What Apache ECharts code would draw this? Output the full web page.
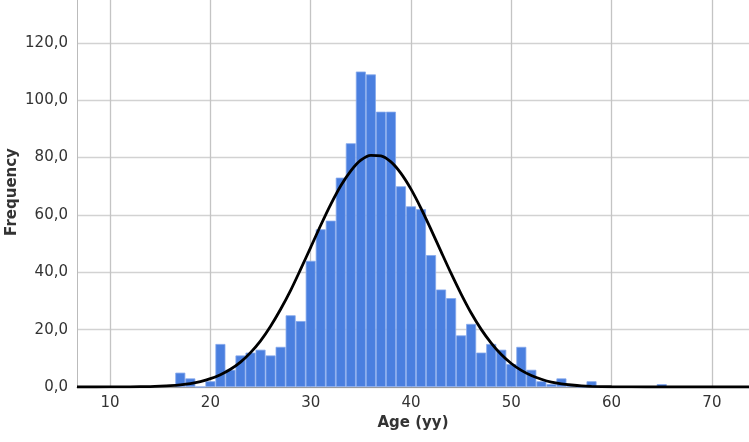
<!DOCTYPE html>
<html><head><meta charset="utf-8">
<script src="https://cdn.jsdelivr.net/npm/echarts@6/dist/echarts.min.js"></script>
<style>html,body{margin:0;padding:0;background:#fff}#c{width:749px;height:442px}</style>
</head><body><div id="c"></div>
<script>
// Histogram bins (age in years, centre of 1-year bin) and frequencies
const binAges = [17,18,19,20,21,22,23,24,25,26,27,28,29,30,31,32,33,34,35,36,37,38,39,40,41,42,43,44,45,46,47,48,49,50,51,52,53,54,55,56,57,58,59,60,61,62,63,64,65];
const binFreq = [5,3,0,2,15,6,11,12,13,11,14,25,23,44,55,58,73,85,110,109,96,96,70,63,62,46,34,31,18,22,12,15,13,8,14,6,2,1,3,1,0,2,0,0,0,0,0,0,1];
// Fitted normal curve
const curveAges = [6.7,10,12,14,15,16,17,18,19,20,21,22,23,24,25,26,27,28,29,30,31,32,33,34,35,36,37,38,39,40,41,42,43,44,45,46,47,48,49,50,51,52,53,54,55,56,57,58,60,62,65,73.7];
const curveFreq = [0,0.01,0.05,0.16,0.28,0.46,0.76,1.2,1.9,2.9,4.3,6.2,8.7,12.0,16.1,21.2,27.1,33.7,41.1,48.7,56.4,63.7,70.2,75.4,79.1,80.8,80.6,78.5,74.5,69.0,62.3,54.9,47.2,39.6,32.4,25.8,20.1,15.3,11.3,8.2,5.8,4.0,2.7,1.7,1.1,0.7,0.4,0.25,0.08,0.02,0,0];
const xTicks = [10,20,30,40,50,60,70];
const xTitle = 'Age (yy)';
const yTitle = 'Frequency';

const font = 'DejaVu Sans';
const chart = echarts.init(document.getElementById('c'), null, {renderer: 'canvas'});
chart.setOption({
  animation: false,
  backgroundColor: '#fff',
  grid: {left: 77, right: 0, top: -3, bottom: 55, containLabel: false, outerBoundsMode: 'none'},
  xAxis: {
    type: 'value', min: 6.7, max: 73.7,
    name: xTitle, nameLocation: 'middle', nameGap: 29, nameMoveOverlap: false,
    nameTextStyle: {fontFamily: font, fontSize: 15, fontWeight: 'bold', color: '#333'},
    axisLine: {show: true, lineStyle: {color: '#999', width: 1}},
    axisTick: {show: false, customValues: xTicks},
    axisLabel: {customValues: xTicks, fontFamily: font, fontSize: 15, color: '#333', margin: 9},
    splitLine: {show: true, lineStyle: {color: '#c4c4c4', width: 1.3}}
  },
  yAxis: {
    type: 'value', min: 0, max: 136, interval: 20,
    name: yTitle, nameLocation: 'middle', nameGap: 57, nameMoveOverlap: false,
    nameTextStyle: {fontFamily: font, fontSize: 15, fontWeight: 'bold', color: '#333'},
    axisLine: {show: true, lineStyle: {color: '#bbb', width: 1}},
    axisTick: {show: false},
    axisLabel: {fontFamily: font, fontSize: 15, color: '#333', margin: 9, showMaxLabel: false,
      formatter: v => (v % 20 === 0 ? v.toFixed(1).replace('.', ',') : '')},
    splitLine: {show: true, lineStyle: {color: '#d2d2d2', width: 1.3}}
  },
  series: [
    {
      type: 'bar',
      data: binAges.map((a, i) => [a, binFreq[i]]),
      barWidth: 10,
      itemStyle: {color: '#4a7fdf', borderColor: '#85a8ec', borderWidth: 0.8},
      z: 2
    },
    {
      type: 'line',
      data: curveAges.map((a, i) => [a, curveFreq[i]]),
      smooth: 0.3,
      showSymbol: false,
      lineStyle: {color: '#000', width: 2.8},
      z: 3
    }
  ]
});
</script></body></html>
